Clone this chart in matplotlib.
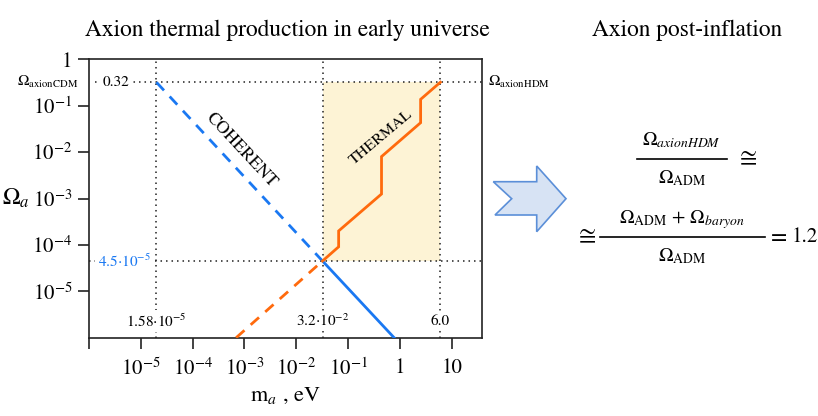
import matplotlib
matplotlib.use("Agg")
from matplotlib import pyplot as plt
from matplotlib.patches import Polygon
from matplotlib.lines import Line2D
import matplotlib.transforms as mtransforms

# data
coh_dash_m = [2.0e-5, 3.2e-2]
coh_dash_omega = [0.32, 4.5e-5]
coh_solid_m = [3.2e-2, 0.77]
coh_solid_omega = [4.5e-5, 1e-6]

therm_m = [3.2e-2, 0.0655, 0.0655, 0.44, 0.44, 2.5, 2.5, 6.0]
therm_omega = [4.5e-5, 9.1e-5, 2.0e-4, 1.25e-3, 8.0e-3, 4.3e-2, 0.137, 0.32]
therm_dash_m = [6.9e-4, 3.2e-2]
therm_dash_omega = [1e-6, 4.5e-5]

m_lines = [2.0e-5, 3.2e-2, 6.0]
m_line_labels = [r"1.58$\cdot$10$^{-5}$", r"3.2$\cdot$10$^{-2}$", "6.0"]
omega_cdm = 0.32
omega_cross = 4.5e-5

xticks = [1e-6, 1e-5, 1e-4, 1e-3, 1e-2, 1e-1, 1, 10]
xticklabels = ["", r"10$^{-5}$", r"10$^{-4}$", r"10$^{-3}$", r"10$^{-2}$", r"10$^{-1}$", "1", "10"]
yticks = [1e-5, 1e-4, 1e-3, 1e-2, 1e-1, 1]
yticklabels = [r"10$^{-5}$", r"10$^{-4}$", r"10$^{-3}$", r"10$^{-2}$", r"10$^{-1}$", "1"]

plt.rcParams['font.family'] = ['STIXGeneral', 'DejaVu Serif']
plt.rcParams['mathtext.fontset'] = 'stix'

BLUE = '#1a78f2'
ORANGE = '#ff6a0d'
W, H = 818, 416

fig = plt.figure(figsize=(W / 100, H / 100), dpi=100)
ax = fig.add_axes([89 / W, 1 - 337.7 / H, 392.7 / W, 278.4 / H])
ax.set_xscale('log')
ax.set_yscale('log')
ax.set_xlim(1e-6, 37.7)
ax.set_ylim(1e-6, 1)

# shaded thermal region
ax.fill_between([m_lines[1], m_lines[2]], omega_cross, omega_cdm,
                color='#fdf3d5', lw=0, zorder=0)

dot = (0, (1, 2.6))
for mv in m_lines:
    ax.axvline(mv, color='#222222', lw=1.1, ls=dot, zorder=1)
ax.axhline(omega_cdm, xmin=0.015, color='#222222', lw=1.1, ls=dot, zorder=1)
ax.axhline(omega_cross, color='#222222', lw=1.1, ls=dot, zorder=1)

ax.plot(coh_dash_m, coh_dash_omega, color=BLUE, lw=2.0, dashes=(4, 3), zorder=3)
ax.plot(coh_solid_m, coh_solid_omega, color=BLUE, lw=2.0, zorder=3)
ax.plot(therm_m, therm_omega, color=ORANGE, lw=2.0, zorder=3, solid_joinstyle='miter')
ax.plot(therm_dash_m, therm_dash_omega, color=ORANGE, lw=2.0, dashes=(4, 3), zorder=3)

ax.set_xticks(xticks)
ax.set_xticklabels(xticklabels)
ax.set_yticks(yticks)
ax.set_yticklabels(yticklabels)
ax.minorticks_off()
ax.tick_params(axis='both', direction='out', length=8, width=1.2, labelsize=15, color='#222222')
ax.tick_params(axis='x', pad=7)
ax.tick_params(axis='y', pad=4)
for s in ax.spines.values():
    s.set_linewidth(1.2)
    s.set_color('#222222')

ax.set_xlabel(r"m$_a$ , eV", fontsize=16, labelpad=4)
ax.set_ylabel(r"$\Omega_a$", fontsize=17, rotation=0, va='center', ha='center')
ax.yaxis.set_label_coords(-0.185, 0.5)

bl = mtransforms.blended_transform_factory(ax.transAxes, ax.transData)
bx = mtransforms.blended_transform_factory(ax.transData, ax.transAxes)
white = dict(facecolor='white', edgecolor='none', pad=1.5)

ax.text(-0.028, omega_cdm, r"$\Omega_{\mathrm{axionCDM}}$", transform=bl,
        ha='right', va='center', fontsize=11)
ax.text(1.016, omega_cdm, r"$\Omega_{\mathrm{axionHDM}}$", transform=bl,
        ha='left', va='center', fontsize=11)
ax.text(0.0675, omega_cdm, "0.32", transform=bl, ha='center', va='center',
        fontsize=11, bbox=white, zorder=4)
ax.text(0.089, omega_cross, r"4.5$\cdot$10$^{-5}$", transform=bl, ha='center',
        va='center', fontsize=11, color=BLUE, bbox=white, zorder=4)
for mv, lab in zip(m_lines, m_line_labels):
    ax.text(mv, 0.06, lab, transform=bx, ha='center', va='center', fontsize=11,
            bbox=white, zorder=4)

ax.text(8.7e-4, 1.1e-2, "COHERENT", rotation=-47, ha='center', va='center',
        fontsize=13, rotation_mode='anchor')
ax.text(0.43, 2.1e-2, "THERMAL", rotation=40, ha='center', va='center',
        fontsize=11.5, rotation_mode='anchor')

fig.text(287 / W, 1 - 30 / H, "Axion thermal production in early universe",
         ha='center', va='center', fontsize=16.8)
fig.text(687 / W, 1 - 30 / H, "Axion post-inflation", ha='center', va='center', fontsize=16.8)

# block arrow
pts = [(493.3, 181.7), (536.7, 181.7), (536.7, 166), (566, 198.7),
       (536.7, 231.7), (536.7, 215), (495, 215), (511.7, 198.7)]
arrow = Polygon([(x / W, 1 - y / H) for x, y in pts], closed=True,
                facecolor='#d7e3f4', edgecolor='#5b8fd8', lw=1.2,
                transform=fig.transFigure)
fig.patches.append(arrow)


def ftext(x, y, s, **kw):
    fig.text(x / W, 1 - y / H, s, ha=kw.pop('ha', 'center'), va='center',
             fontsize=kw.pop('fontsize', 14), **kw)


def fbar(x0, x1, y):
    fig.add_artist(Line2D([x0 / W, x1 / W], [1 - y / H, 1 - y / H],
                          color='black', lw=1.2, transform=fig.transFigure))


ftext(681.7, 140, r"$\Omega_{axionHDM}$")
fbar(636.7, 727.3, 159)
ftext(681.7, 178, r"$\Omega_{\mathrm{ADM}}$")
ftext(747, 158, r"$\cong$", fontsize=18)

ftext(586, 236, r"$\cong$", fontsize=18)
ftext(681.7, 220, r"$\Omega_{\mathrm{ADM}}$ + $\Omega_{baryon}$")
fbar(600, 765, 237)
ftext(681.7, 256, r"$\Omega_{\mathrm{ADM}}$")
ftext(767, 236, r"$=$", ha='left', fontsize=17)
ftext(792, 237, "1.2", ha='left', fontsize=15)

fig.savefig("out.png", dpi=100)
